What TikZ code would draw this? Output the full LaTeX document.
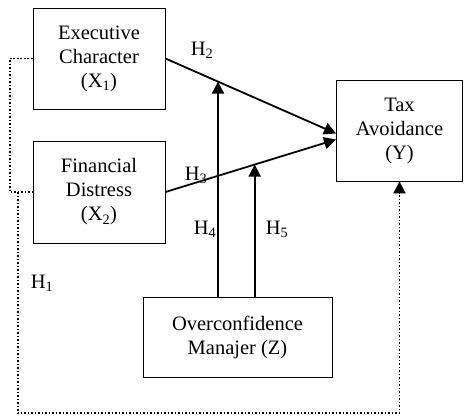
\documentclass[tikz,border=0pt]{standalone}
\usepackage{fontspec}
\setmainfont{Liberation Serif}
\usetikzlibrary{arrows.meta}

\begin{document}
\begin{tikzpicture}[x=1pt, y=-1pt,
    varbox/.style={draw, line width=0.9pt, align=center,
                   font=\fontsize{20.5}{24}\selectfont, inner sep=0pt},
    hlabel/.style={font=\fontsize{20.5}{24}\selectfont, inner sep=0pt},
    effect/.style={line width=1.8pt, -{Triangle[length=12pt,width=12pt]}},
    direct/.style={line width=1.9pt, dash pattern=on 1.9pt off 1.6pt}]
    % Diagram: X1, X2 -> Y, moderated by Z; dotted H1 path round the outside.
    % Coordinates: (x, y), y grows downward, 1 unit = 1pt
    %   X1 at (99,58.5), X2 at (99,192), Y at (400,130.5), Z at (237.5,337)
    %   H4 rises at x=218, H5 at x=255
    \useasboundingbox (0,0) rectangle (464,416);
    \node[varbox, minimum width=132, minimum height=101] (x1) at (99,58.5)
          {Executive\\Character\\(X\textsubscript{1})};
    \node[varbox, minimum width=132, minimum height=102] (x2) at (99,192)
          {Financial\\Distress\\(X\textsubscript{2})};
    \node[varbox, minimum width=126, minimum height=101] (y) at (399.5,130.5)
          {Tax\\Avoidance\\(Y)};
    \node[varbox, minimum width=189, minimum height=80] (z) at (237.5,337)
          {Overconfidence\\Manajer (Z)};
    \coordinate (y2) at ([yshift=-3pt]y.west);
    \coordinate (y3) at ([yshift=-9pt]y.west);
    \draw[effect] (x1.east) -- (y2)
      coordinate[pos=0.308] (m4);
    \draw[effect] (x2.east) -- (y3)
      coordinate[pos=0.523] (m5);
    \draw[effect] (m4 |- z.north) -- (m4);
    \draw[effect] (m5 |- z.north) -- (m5);
    \draw[direct] (x1.west) -- ++(-23,0) |- (x2.west);
    \draw[direct, -{Triangle[length=12pt,width=12pt]}]
      ([xshift=-15pt]x2.west) -- ++(0,221) -| (y.south);
    \node[hlabel] (h1) at (42,283) {H\textsubscript{1}};
    \node[hlabel] (h2) at (202,50) {H\textsubscript{2}};
    \node[hlabel] (h3) at (196,175) {H\textsubscript{3}};
    \node[hlabel] (h4) at (205,229) {H\textsubscript{4}};
    \node[hlabel] (h5) at (277,229) {H\textsubscript{5}};
  \end{tikzpicture}
\end{document}
